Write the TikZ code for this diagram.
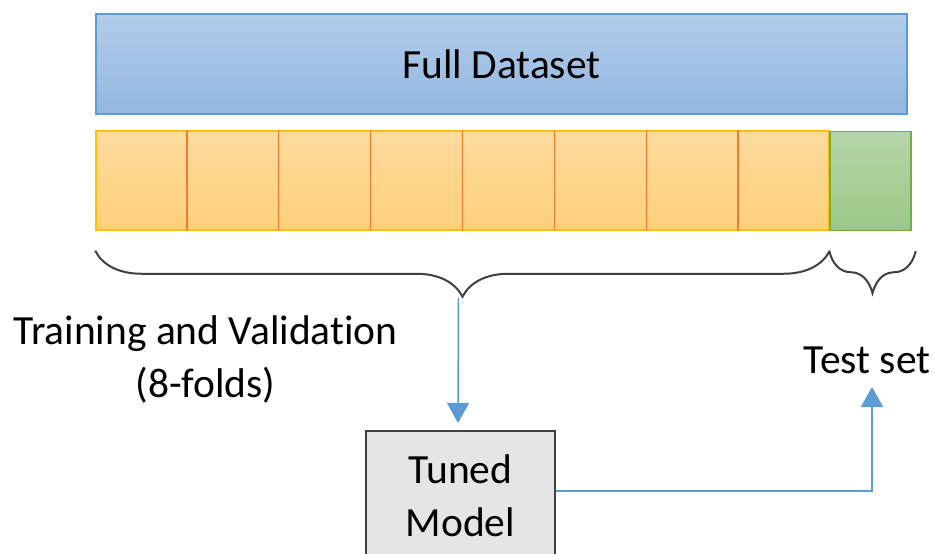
\documentclass[tikz,border=0pt]{standalone}
\usepackage{fontspec}
\setmainfont[RawFeature={-liga}]{Carlito}
\usetikzlibrary{arrows.meta,calc,decorations.pathreplacing}
\definecolor{bluetop}{HTML}{B2CCE9}
\definecolor{bluebot}{HTML}{93B7E1}
\definecolor{blueedge}{HTML}{5B9BD5}
\definecolor{orgtop}{HTML}{FDDA9E}
\definecolor{orgbot}{HTML}{FDD07A}
\definecolor{orgedge}{HTML}{FFC000}
\definecolor{orgdiv}{HTML}{ED7D31}
\definecolor{grntop}{HTML}{B6D6A9}
\definecolor{grnbot}{HTML}{9CC886}
\definecolor{grnedge}{HTML}{70AD47}
\definecolor{arrowblue}{HTML}{5B9BD5}
\tikzset{
  lbl/.style={font=\fontsize{41.5}{53}\selectfont, text=black, align=center},
  conn/.style={draw=arrowblue, line width=1.5pt, -{Triangle[width=22pt,length=20pt]}},
  bracestyle/.style={draw=black!75, line width=2pt, decorate,
     decoration={brace, mirror, amplitude=46pt}},
}
\begin{document}
\begin{tikzpicture}[x=1pt,y=-1pt]
\useasboundingbox (0,0) rectangle (935,554);
% full dataset
\node[draw=blueedge, line width=1.5pt, top color=bluetop, bottom color=bluebot,
  minimum width=811pt, minimum height=100pt, inner sep=0pt, lbl] (full) at (501.5,64) {Full Dataset};
% training folds
\node[draw=orgedge, line width=1.5pt, top color=orgtop, bottom color=orgbot,
  minimum width=733pt, minimum height=99pt, inner sep=0pt] (train) at (462.5,180.5) {};
\foreach \k in {1,...,7}{
  \draw[orgdiv, line width=1.2pt] ($(train.north west)!\k/8!(train.north east)$) -- ($(train.south west)!\k/8!(train.south east)$);
}
% test fold
\node[draw=grnedge, line width=1.5pt, top color=grntop, bottom color=grnbot,
  minimum width=81pt, minimum height=99pt, inner sep=0pt] (test) at (870.5,181) {};
% braces
\draw[bracestyle] ($(train.south west)+(0,20)$) -- ($(train.south east)+(0,20)$);
\draw[bracestyle, decoration={brace, mirror, amplitude=42pt}] ($(test.south west)+(0,20)$) -- ($(test.south east)+(4,20)$);
\coordinate (btip) at ($(train.south)+(-4,67)$);
% labels
\node[lbl] (tv) at (205.5,359) {Training and Validation\\(8-folds)};
\node[lbl] (ts) at (867,360) {Test set};
% tuned model
\node[draw=black!75, line width=1.5pt, fill=black!10, minimum width=189pt, minimum height=130pt,
  inner sep=0pt, lbl, anchor=north] (tuned) at (460.5,430) {Tuned\\Model};
\coordinate (tsarrow) at (872,387);
% connectors
\draw[conn] (btip) -- ($(tuned.north)+(-2.5,-7)$);
\draw[conn] ($(tuned.east)+(0,-5)$) -| (tsarrow);
\end{tikzpicture}
\end{document}
